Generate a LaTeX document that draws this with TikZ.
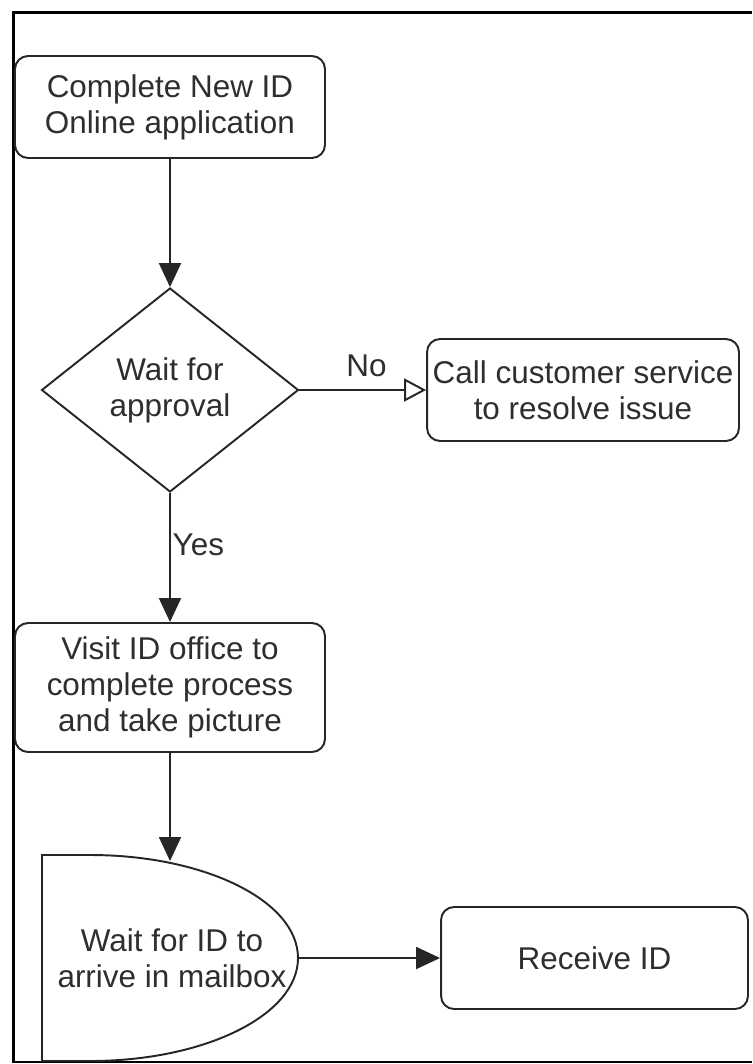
\documentclass[tikz,border=0pt]{standalone}
\usepackage{fontspec}
\setmainfont{Liberation Sans}
\usetikzlibrary{shapes.geometric, arrows.meta}

\tikzset{
  stepbox/.style={draw, rounded corners=0.26cm, line width=1.1pt, align=center,
    minimum width=6.2cm, minimum height=2.04cm, inner sep=2pt},
  decision/.style={draw, diamond, aspect=1.26, line width=1.1pt, align=center,
    minimum width=5.14cm, minimum height=4.08cm, inner sep=1pt},
  flow/.style={line width=1.1pt, -{Triangle[length=0.48cm, width=0.44cm]}},
  noflow/.style={line width=1.1pt, -{Triangle[open, length=0.44cm, width=0.46cm]}},
}

\begin{document}
\begin{tikzpicture}[x=0.02cm, y=-0.02cm, font=\fontsize{17.9}{20.6}\selectfont,
    text=black!82, draw=black!85]
    \useasboundingbox (0,0) rectangle (752,1064);
    % frame round the chart
    \draw[line width=1.2pt, black] (752,12.5) -- (13.5,12.5) -- (13.5,1062) -- (752,1062);

    \node[stepbox] (apply) at (170,107) {Complete New ID\\Online application};
    \node[decision] (approve) at (170,390) {Wait for\\approval};
    \node[stepbox, minimum width=6.24cm] (call) at (583,390) {Call customer service\\to resolve issue};
    \node[stepbox, minimum height=2.58cm] (visit) at (170,687.5) {Visit ID office to\\complete process\\and take picture};

    % delay shape
    \draw[line width=1.1pt] (42,855) -- (90,855) .. controls (205,855) and (298,901) .. (298,958)
        .. controls (298,1015) and (205,1061) .. (90,1061) -- (42,1061) -- cycle;
    \node[align=center, inner sep=1pt] (mail) at (172,958) {Wait for ID to\\arrive in mailbox};
    \coordinate (mailtop) at (170,861);
    \coordinate (mailout) at (298,958);

    \node[stepbox, minimum width=6.14cm] (receive) at (594.5,958) {Receive ID};

    % connectors
    \draw[flow] (apply) -- (approve);
    \draw[noflow] (approve) -- node[above, pos=0.53, inner sep=7pt] (nolabel) {No} (call);
    \draw[flow] (approve) -- node[anchor=west, pos=0.4, inner sep=1pt] (yeslabel) {Yes} (visit);
    \draw[flow] (visit) -- (mailtop);
    \draw[flow] (mailout) -- (receive);
\end{tikzpicture}
\end{document}
